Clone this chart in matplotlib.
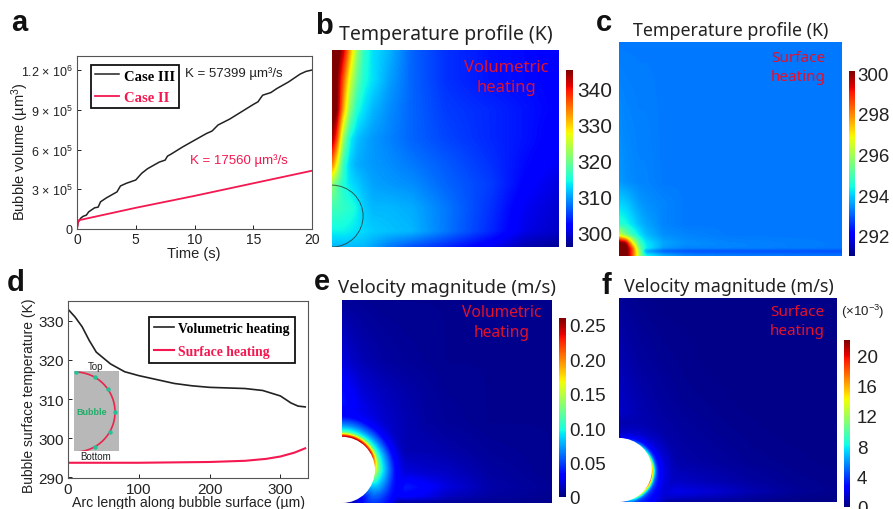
import numpy as np
import matplotlib
matplotlib.use('Agg')
import matplotlib.pyplot as plt
from matplotlib.cm import ScalarMappable
from matplotlib.colors import Normalize
from matplotlib.patches import Arc, Ellipse

W, H = 893, 510
plt.rcParams['font.family'] = ['Liberation Sans', 'DejaVu Sans']
plt.rcParams['mathtext.default'] = 'regular'

# panel a
t_case3 = [0, 0.1, 0.3, 0.5, 0.8, 1.0, 1.5, 1.8, 2.0, 2.5, 3.0, 3.4, 3.7, 4.2, 5.0, 5.5, 6.0, 7.0, 7.5, 7.7,
           8.0, 9.0, 10.0, 11.0, 11.5, 12.0, 13.0, 14.0, 15.0, 15.4, 15.8, 16.5, 17.0, 18.0, 19.0, 19.5, 20.0]
v_case3 = [0, 5.0e4, 8.0e4, 9.5e4, 1.05e5, 1.3e5, 1.6e5, 1.65e5, 2.05e5, 2.35e5, 2.6e5, 2.8e5, 3.25e5, 3.45e5,
           3.7e5, 4.2e5, 4.55e5, 5.05e5, 5.2e5, 5.5e5, 5.65e5, 6.2e5, 6.7e5, 7.2e5, 7.4e5, 7.85e5, 8.3e5, 8.85e5,
           9.4e5, 9.6e5, 10.1e5, 10.3e5, 10.6e5, 11.1e5, 11.7e5, 11.9e5, 12.0e5]
t_case2 = [0, 0.1, 5, 10, 15, 20]
v_case2 = [0, 6.5e4, 1.6e5, 2.5e5, 3.45e5, 4.4e5]
a_yticks = [0, 3e5, 6e5, 9e5, 1.2e6]
a_ylabels = ['0', r'3 × 10$^5$', r'6 × 10$^5$', r'9 × 10$^5$', r'1.2 × 10$^6$']

# panel d
arc_len = [0, 10, 20, 30, 40, 50, 60, 80, 100, 125, 150, 175, 200, 250, 275, 300, 315, 325, 335]
temp_vol = [333, 331, 328.5, 325, 322, 320.5, 319, 317, 316, 315, 314, 313.4, 313, 312.7, 312.2, 310.8, 309, 308.2, 308]
arc_len_s = [0, 100, 200, 250, 280, 300, 320, 335]
temp_surf = [293.7, 293.7, 293.9, 294.2, 294.7, 295.3, 296.3, 297.4]
inset_dots = [88, 60, 35, 0, -30, -60]

# panel b field, rows from top to bottom
b_u = [0, .02, .05, .08, .11, .14, .18, .25, .35, .5, .7, .85, 1]
b_v = [1, .85, .7, .55, .42, .32, .2, .08, 0]
b_T = [[348, 348, 342, 332, 322, 316, 313, 311, 307, 304.5, 303, 302.5, 302],
       [348, 346, 336, 326, 319, 315, 313, 310, 307, 304.5, 303, 302.5, 302],
       [347, 346, 332, 321, 315, 313, 311, 309, 307, 305, 304, 303, 302],
       [344, 338, 322, 314, 311.5, 310.5, 309.5, 308.5, 307, 305.5, 304, 303, 301.5],
       [335, 328, 316, 312, 310.5, 310, 309.5, 309, 308, 306.5, 304.5, 302.5, 301],
       [322, 319, 315, 313, 312, 311, 310, 309.5, 309, 307, 305, 302, 300],
       [317, 317, 316, 315.5, 314, 312, 311, 311, 310.5, 308, 304.5, 301, 299.5],
       [314, 314, 314, 313.5, 313, 312.5, 312, 311.5, 311, 308, 304, 300.5, 299],
       [311, 311, 311, 311, 311, 311, 310, 308, 306, 304, 301, 298, 297]]

# panel c field
c_u = [0, .03, .06, .09, .12, .2, .3, .5, 1]
c_v = [1, .35, .25, .15, .1, .06, .035, .025, 0]
c_T = [[293.2, 293.2, 293.2, 293.2, 293.2, 293.2, 293.2, 293.2, 293.2],
       [293.5, 293.4, 293.35, 293.3, 293.3, 293.2, 293.2, 293.2, 293.2],
       [294, 293.9, 293.7, 293.5, 293.4, 293.3, 293.2, 293.2, 293.2],
       [294.6, 294.4, 294.1, 293.8, 293.6, 293.3, 293.2, 293.2, 293.2],
       [296.5, 295.5, 294.7, 294.2, 293.8, 293.4, 293.3, 293.2, 293.2],
       [300.5, 300, 297, 295, 294.2, 293.6, 293.4, 293.3, 293.2],
       [300.5, 300.5, 298.5, 295.5, 294.3, 293.5, 293.3, 293.3, 293.2],
       [300.5, 300.5, 298.5, 296, 293.5, 292.9, 292.8, 292.8, 292.8],
       [300.5, 300.5, 298.5, 296, 294.5, 293.8, 293.4, 293.3, 293.2]]

# panel e field
e_u = [0, .05, .1, .2, .3, .4, .5, .7, 1]
e_v = [1, .7, .55, .4, .25, .15, .08, .03, 0]
e_S = [[.006, .006, .005, .004, .004, .004, .004, .004, .004],
       [.022, .016, .012, .008, .006, .005, .004, .004, .004],
       [.035, .028, .02, .014, .01, .007, .005, .004, .004],
       [.04, .035, .028, .018, .012, .008, .006, .004, .004],
       [.03, .03, .03, .02, .012, .012, .01, .006, .004],
       [.01, .015, .025, .03, .022, .018, .016, .008, .004],
       [.01, .01, .02, .04, .04, .032, .022, .01, .005],
       [.005, .005, .01, .025, .03, .025, .015, .008, .004],
       [.004, .004, .005, .006, .006, .006, .005, .004, .004]]
e_ang = [90, 60, 30, 0, -25, -50, -70, -90]
e_rad = [1, 1.06, 1.12, 1.2, 1.35, 1.6, 2.0]
e_ring = [[.26, .22, .13, .10, .07, .035, .022],
          [.26, .22, .13, .095, .065, .03, .018],
          [.25, .20, .13, .10, .07, .03, .015],
          [.17, .15, .12, .10, .075, .035, .015],
          [.09, .09, .085, .08, .065, .04, .02],
          [.04, .04, .04, .045, .045, .04, .03],
          [.015, .015, .02, .02, .025, .03, .03],
          [.005, .005, .005, .005, .005, .01, .01]]

# panel f field (x 1e-3)
f_u = [0, .05, .1, .2, .3, .45, .6, .8, 1]
f_v = [1, .7, .5, .35, .2, .1, .05, .02, 0]
f_S = [[.5, .4, .3, .2, .2, .2, .2, .2, .2],
       [1.0, .8, .6, .4, .3, .2, .2, .2, .2],
       [1.4, 1.1, .9, .6, .4, .3, .2, .2, .2],
       [1.5, 1.3, 1.0, .8, .6, .4, .3, .2, .2],
       [1.2, 1.2, 1.2, 1.0, .8, .6, .4, .3, .2],
       [1, 1, 1.5, 1.5, 1.3, 1.0, .7, .4, .3],
       [1, 1, 2, 2.2, 2, 1.6, 1.0, .5, .3],
       [.6, .6, 1, 1.5, 1.3, 1.0, .6, .3, .2],
       [.3, .3, .4, .5, .5, .4, .3, .2, .2]]
f_ang = [90, 60, 30, 0, -25, -50, -70, -90]
f_rad = [1, 1.03, 1.07, 1.12, 1.2, 1.4, 1.8]
f_ring = [[1.5, 1.5, 1.5, 1.5, 1.2, 1.0, .8],
          [5, 4, 3, 2.5, 1.8, 1.2, .8],
          [10, 8, 5, 3.5, 2.5, 1.5, 1],
          [19, 14, 8, 5, 3, 1.8, 1],
          [20, 15, 8, 5, 3.5, 2, 1.2],
          [14, 10, 6, 4.5, 3.5, 2.5, 1.5],
          [8, 6, 5, 4, 3.5, 3, 2],
          [1, 1, 1, 1, 1, 1.5, 1.5]]

DARK = '#222222'
PINK = '#f5174f'


def box(x0, y0, x1, y1):
    # pixel box (y down) to figure fractions
    return [x0 / W, 1 - y1 / H, (x1 - x0) / W, (y1 - y0) / H]


def label(x, y, s, **kw):
    kw.setdefault('color', DARK)
    kw.setdefault('ha', 'center')
    kw.setdefault('va', 'center')
    fig.text(x / W, 1 - y / H, s, **kw)


def lookup(xs, ys, vals, x, y):
    # bilinear lookup in a table, xs and ys ascending
    xs, ys, vals = np.array(xs, float), np.array(ys, float), np.array(vals, float)
    i = np.clip(np.searchsorted(xs, x) - 1, 0, len(xs) - 2)
    j = np.clip(np.searchsorted(ys, y) - 1, 0, len(ys) - 2)
    tx = np.clip((x - xs[i]) / (xs[i + 1] - xs[i]), 0, 1)
    ty = np.clip((y - ys[j]) / (ys[j + 1] - ys[j]), 0, 1)
    return ((1 - ty) * ((1 - tx) * vals[j, i] + tx * vals[j, i + 1])
            + ty * ((1 - tx) * vals[j + 1, i] + tx * vals[j + 1, i + 1]))


def soften(img):
    k = np.array([1, 4, 6, 4, 1]) / 16
    pad = np.pad(img, 2, mode='edge')
    pad = np.apply_along_axis(lambda r: np.convolve(r, k, mode='same'), 0, pad)
    pad = np.apply_along_axis(lambda r: np.convolve(r, k, mode='same'), 1, pad)
    return pad[2:-2, 2:-2]


def field_axes(bx, u, v, vals, vmin, vmax, bubble=None):
    # bubble = (cu, cv, ru, rv, angles, radii, table), white disc with a polar table round it
    ax = fig.add_axes(box(*bx))
    nx, ny = bx[2] - bx[0], bx[3] - bx[1]
    x, y = np.meshgrid((np.arange(nx) + .5) / nx, (np.arange(ny) + .5) / ny)
    img = lookup(u, v[::-1], vals[::-1], x, y)
    if bubble:
        cu, cv, ru, rv, ang, rad, table = bubble
        r = np.hypot((x - cu) / ru, (y - cv) / rv)
        a = np.degrees(np.arctan2((y - cv) / rv, (x - cu) / ru))
        inner = lookup(rad, ang[::-1], table[::-1], r, a)
        w = np.clip((rad[-1] - r) / 0.3, 0, 1)
        img = w * inner + (1 - w) * img
    ax.imshow(soften(img), origin='lower', extent=(0, 1, 0, 1), aspect='auto', cmap='jet',
              vmin=vmin, vmax=vmax, interpolation='nearest')
    ax.set_xlim(0, 1); ax.set_ylim(0, 1)
    ax.set_xticks([]); ax.set_yticks([])
    for s in ax.spines.values():
        s.set_visible(False)
    if bubble:
        ax.add_patch(Ellipse((cu, cv), 2 * ru, 2 * rv, fc='white', ec='none', zorder=3))
    return ax


def colorbar(bx, vmin, vmax, ticks, labels, pad=3, size=13.5):
    cax = fig.add_axes(box(*bx))
    cb = fig.colorbar(ScalarMappable(Normalize(vmin, vmax), 'jet'), cax=cax)
    cb.outline.set_visible(False)
    cb.set_ticks(ticks, labels=labels)
    cax.tick_params(length=0, pad=pad, labelsize=size, colors=DARK)


fig = plt.figure(figsize=(W / 100, H / 100), dpi=100)

# a
ax = fig.add_axes(box(77, 57, 312, 230))
ax.plot(t_case3, v_case3, color=DARK, lw=1.1)
ax.plot(t_case2, v_case2, color=PINK, lw=1.3)
ax.set_xlim(0, 20); ax.set_ylim(0, 1.306e6)
ax.set_xticks([0, 5, 10, 15, 20])
ax.set_yticks(a_yticks, labels=a_ylabels)
ax.tick_params(direction='in', length=3, width=0.7, pad=3, colors=DARK)
ax.tick_params(axis='x', labelsize=10, pad=2)
ax.tick_params(axis='y', labelsize=9)
for s in ax.spines.values():
    s.set_linewidth(0.8); s.set_color('#555555')
label(194, 254, 'Time (s)', fontsize=10.5)
label(20, 152, 'Bubble volume (µm$^3$)', fontsize=10.5, rotation=90)
leg = ax.legend(ax.get_lines(), ['Case III', 'Case II'], loc='upper left', bbox_to_anchor=(0.06, 0.948),
                borderaxespad=0, fancybox=False, framealpha=1, edgecolor='#111111', handlelength=1.6,
                handletextpad=0.35, labelspacing=0.55, borderpad=0.3,
                prop={'family': 'Liberation Serif', 'weight': 'bold', 'size': 10.5})
leg.get_frame().set_linewidth(1.3)
leg.get_texts()[1].set_color(PINK)
label(234, 74, 'K = 57399 µm³/s', fontsize=9.5)
label(239, 161, 'K = 17560 µm³/s', fontsize=9.5, color=PINK)

# d
ax = fig.add_axes(box(68, 302, 308, 479))
ax.plot(arc_len, temp_vol, color=DARK, lw=1.2)
ax.plot(arc_len_s, temp_surf, color=PINK, lw=1.5)
ax.set_xlim(0, 339); ax.set_ylim(289.8, 335.1)
ax.set_xticks([0, 100, 200, 300])
ax.set_yticks([290, 300, 310, 320, 330])
ax.tick_params(direction='in', length=3, width=0.7, labelsize=11, pad=3, colors=DARK)
for s in ax.spines.values():
    s.set_linewidth(0.8); s.set_color('#555555')
label(189, 503, 'Arc length along bubble surface (µm)', fontsize=10.2)
label(29, 396, 'Bubble surface temperature (K)', fontsize=10, rotation=90)
leg = ax.legend(ax.get_lines(), ['Volumetric heating', 'Surface heating'], loc='upper left',
                bbox_to_anchor=(0.338, 0.91), borderaxespad=0, fancybox=False, framealpha=1,
                edgecolor='#111111', handlelength=1.5, handletextpad=0.3, labelspacing=0.75, borderpad=0.35,
                prop={'family': 'Liberation Serif', 'weight': 'bold', 'size': 9.8})
leg.get_frame().set_linewidth(1.3)
leg.get_texts()[1].set_color(PINK)

ins = fig.add_axes(box(74, 372, 119, 452))
ins.set_facecolor('#b8b8b8')
ins.set_xlim(74, 119); ins.set_ylim(452, 372)
ins.set_xticks([]); ins.set_yticks([])
for s in ins.spines.values():
    s.set_visible(False)
ins.add_patch(Arc((75, 413), 80, 80, theta1=-90, theta2=90, color='#e8254a', lw=1.2))
dots = np.radians(inset_dots)
ins.plot(75 + 40 * np.cos(dots), 413 - 40 * np.sin(dots), ls='none', marker='o', ms=2.2, color='#22c39a')
label(92, 413, 'Bubble', fontsize=6.5, color='#1fae6a', weight='bold')
label(96, 367, 'Top', fontsize=7)
label(96, 457, 'Bottom', fontsize=7)

# b
ax = field_axes((332, 51, 559, 248), b_u, b_v, b_T, 296, 345)
ax.add_patch(Ellipse((0, 0.157), 2 * 0.137, 2 * 0.157, fc='none', ec='#333333', lw=0.7, alpha=0.8))
colorbar((566, 71, 573, 248), 296, 345, [300, 310, 320, 330, 340], ['300', '310', '320', '330', '340'], size=15)

# c
field_axes((619, 43, 842, 257), c_u, c_v, c_T, 291, 300)
colorbar((849, 72, 855, 257), 291, 300.1, [292, 294, 296, 298, 300], ['292', '294', '296', '298', '300'], pad=2)

# e
field_axes((342, 301, 552, 504), e_u, e_v, e_S, 0, 0.26,
           bubble=(0, 0.163, 0.157, 0.163, e_ang, e_rad, e_ring))
colorbar((559, 319, 566, 498), 0, 0.26, [0, .05, .10, .15, .20, .25], ['0', '0.05', '0.10', '0.15', '0.20', '0.25'], pad=2)

# f
field_axes((619, 299, 837, 503), f_u, f_v, f_S, 0, 22,
           bubble=(0, 0.157, 0.151, 0.157, f_ang, f_rad, f_ring))
colorbar((844, 341, 850, 508), 0, 22, [0, 4, 8, 12, 16, 20], ['0', '4', '8', '12', '16', '20'], pad=5, size=13.5)
label(863, 312, '(×10$^{-3}$)', fontsize=9.5)

# panel letters
for x, y, s in [(19, 23, 'a'), (324, 26, 'b'), (604, 23, 'c'), (16, 283, 'd'), (322, 282, 'e'), (606, 286, 'f')]:
    label(x, y, s, fontsize=21, weight='bold', color='#111111')

# titles and notes
for x, y, s, fs in [(446, 35, 'Temperature profile (K)', 14), (731, 31, 'Temperature profile (K)', 12.8),
                    (447, 288, 'Velocity magnitude (m/s)', 13.4), (729, 287, 'Velocity magnitude (m/s)', 12.9)]:
    label(x, y, s, fontsize=fs, family=['Noto Sans', 'DejaVu Sans'])
for x, y, s, fs in [(506, 78, 'Volumetric\nheating', 12), (798, 68, 'Surface\nheating', 11),
                    (502, 323, 'Volumetric\nheating', 11.2), (797, 322, 'Surface\nheating', 11)]:
    label(x, y, s, fontsize=fs, color='#e5102a', linespacing=1.3,
          family=['Noto Sans', 'DejaVu Sans'])

fig.savefig('out.png', dpi=100)
